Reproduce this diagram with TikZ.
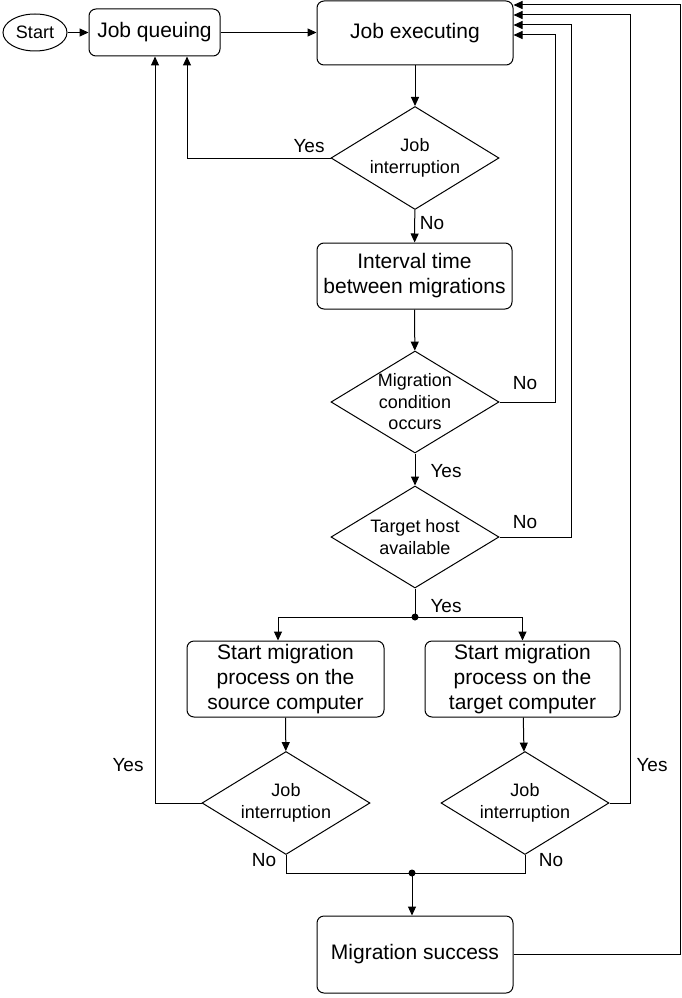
\documentclass[tikz,border=0pt]{standalone}
\usepackage{fontspec}
\setmainfont{Liberation Sans}
\usetikzlibrary{shapes.geometric,arrows.meta,calc}
\begin{document}
\begin{tikzpicture}[x=1pt,y=-1pt,
  line width=1pt,
  box/.style={draw,rounded corners=7pt,align=center,inner sep=0pt,font=\fontsize{21}{25}\selectfont},
  dia/.style={draw,diamond,inner sep=0pt,minimum width=168pt,minimum height=103pt},
  dtext/.style={align=center,inner sep=0pt,font=\fontsize{18}{21.5}\selectfont},
  lbl/.style={inner sep=0pt,font=\fontsize{19}{22}\selectfont},
  arr/.style={-{Triangle[length=9pt,width=8pt]}},
  dot/.style={circle,fill,inner sep=0pt,minimum size=7pt}]
\useasboundingbox (0,0) rectangle (681,998);
% nodes
\node[draw,ellipse,inner sep=0pt,minimum width=64pt,minimum height=37pt,font=\fontsize{18}{21}\selectfont] (start) at (35,32.5) {Start};
\node[box,minimum width=131pt,minimum height=47pt] (jq) at (154.5,32.5) {Job queuing};
\node[box,minimum width=196pt,minimum height=64pt] (je) at (415,33) {Job executing};
\node[dia] (d1) at (415,158) {};
\node[dtext] (d1t) at (d1) {Job\\interruption};
\node[box,minimum width=195pt,minimum height=66pt] (ib) at (414.5,276) {Interval time\\between migrations};
\node[dia,minimum height=102pt] (d2) at (415,402) {};
\node[dtext] (d2t) at (d2) {Migration\\condition\\occurs};
\node[dia,minimum height=102pt] (d3) at (415,537) {};
\node[dtext] (d3t) at (d3) {Target host\\available};
\node[box,minimum width=197pt,minimum height=76pt] (lb) at (285.5,679) {Start migration\\process on the\\source computer};
\node[box,minimum width=195pt,minimum height=76pt] (rb) at (522.5,679) {Start migration\\process on the\\target computer};
\node[dia] (ld) at (286,803) {};
\node[dtext] (ldt) at (ld) {Job\\interruption};
\node[dia] (rd) at (525,803) {};
\node[dtext] (rdt) at (rd) {Job\\interruption};
\node[box,minimum width=196pt,minimum height=77pt] (ms) at (415,954.5) {Migration success};
% helper coordinates
\coordinate (c1) at (187,0);
\coordinate (c2) at (155,0);
\coordinate (r1) at (555,35);
\coordinate (r2) at (571,25);
\coordinate (r3) at (630,15);
\coordinate (r4) at (680,5);
\coordinate (sp) at (415,617);
\coordinate (sl) at (278,617);
\coordinate (jn) at (412,873);
% connectors
\draw[arr] (start) -- (jq);
\draw[arr] (jq.east) -- (jq.east -| je.west);
\draw[arr] (je) -- (d1);
\draw[arr] (d1.west) -| (c1 |- jq.south);
\draw[arr] (d1) -- (ib);
\draw[arr] (ib) -- (d2);
\draw[arr] (d2.east) -| (r1) -- (r1 -| je.east);
\draw[arr] (d2) -- (d3);
\draw[arr] (d3.east) -| (r2) -- (r2 -| je.east);
\draw (d3.south) -- (sp);
\draw[arr] (sp) -- (sl) -- (sl |- lb.north);
\draw[arr] (sp) -| (rb.north);
\draw[arr] (lb) -- (ld);
\draw[arr] (rb) -- (rd);
\draw[arr] (ld.west) -| (c2 |- jq.south);
\draw[arr] (rd.east) -| (r3) -- (r3 -| je.east);
\draw (ld.south) |- (jn);
\draw (rd.south) |- (jn);
\draw[arr] (jn) -- (jn |- ms.north);
\draw[arr] (ms.east) -| (r4) -- (r4 -| je.east);
\node[dot] (dot1) at (sp) {};
\node[dot] (dot2) at (jn) {};
% labels
\node[lbl] (l1) at (309,146) {Yes};
\node[lbl] (l2) at (432,223) {No};
\node[lbl] (l3) at (525,383) {No};
\node[lbl] (l4) at (446,471) {Yes};
\node[lbl] (l5) at (525,522) {No};
\node[lbl] (l6) at (446,606) {Yes};
\node[lbl] (l7) at (128,765) {Yes};
\node[lbl] (l8) at (652,765) {Yes};
\node[lbl] (l9) at (264,860) {No};
\node[lbl] (l10) at (551,860) {No};
\end{tikzpicture}
\end{document}
